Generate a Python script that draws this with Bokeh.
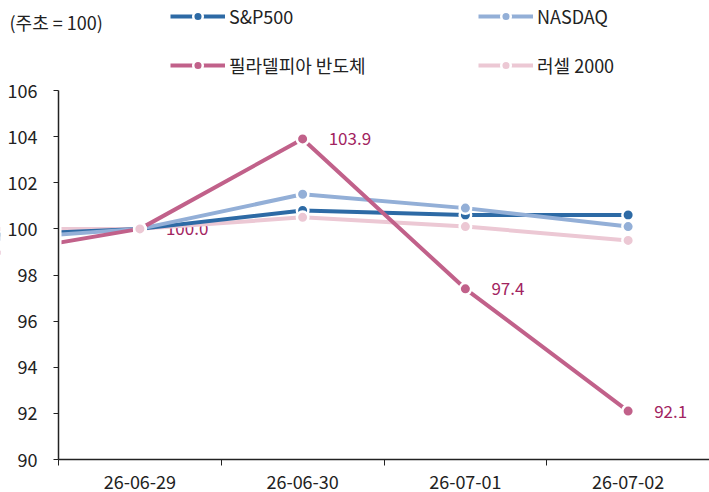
from bokeh.plotting import figure
from bokeh.models import (Range1d, FixedTicker, Legend, LegendItem, Label,
                          ColumnDataSource, BoxAnnotation)
from bokeh.core.properties import value
from bokeh.embed import file_html
from bokeh.resources import INLINE

# ---- data ----
dates = ["26-06-26", "26-06-29", "26-06-30", "26-07-01", "26-07-02"]
idx = [0, 1, 2, 3, 4]
sp500 = [99.7, 100.0, 100.8, 100.6, 100.6]
nasdaq = [99.5, 100.0, 101.5, 100.9, 100.1]
sox = [98.8, 100.0, 103.9, 97.4, 92.1]
russell = [100.0, 100.0, 100.5, 100.1, 99.5]
series_names = ["S&P500", "NASDAQ", "필라델피아 반도체", "러셀 2000"]
y_ticks = [90, 92, 94, 96, 98, 100, 102, 104, 106]
title_text = "(주초 = 100)"

colors = {"S&P500": "#2D6AA5", "NASDAQ": "#93AFD7",
          "필라델피아 반도체": "#C1618A", "러셀 2000": "#ECC8D4"}
label_color = "#A2245F"
FONT = "Noto Sans CJK KR"

# ---- layout geometry (pixels) ----
W, H = 709, 492
PL, PR, PT, PB = 58, 709, 90, 459          # plot area inside the canvas
x_lo, x_hi = idx[1] - 0.5, idx[-1] + 0.5
y_lo, y_hi = y_ticks[0], y_ticks[-1]
xpx = (PR - PL) / (x_hi - x_lo)
ypx = (PB - PT) / (y_hi - y_lo)
x_start = x_lo - PL / xpx
x_end = x_hi + (W - PR) / xpx
y_end = y_hi + PT / ypx
y_start = y_lo - (H - PB) / ypx

p = figure(width=W, height=H, output_backend="svg", toolbar_location=None,
           x_range=Range1d(x_start, x_end), y_range=Range1d(y_start, y_end),
           min_border_left=0, min_border_right=0, min_border_top=0,
           min_border_bottom=0)
p.outline_line_color = None
p.grid.visible = False
p.background_fill_color = "white"

data = {"S&P500": sp500, "NASDAQ": nasdaq, "필라델피아 반도체": sox, "러셀 2000": russell}

# data labels for SOX (drawn beneath the lines)
lab_src = ColumnDataSource(dict(x=idx[1:], y=sox[1:], t=["%.1f" % v for v in sox[1:]]))
p.text("x", "y", "t", source=lab_src, x_offset=26, text_baseline="middle",
       text_align="left", text_color=label_color, text_font=value(FONT),
       text_font_size="17px")

line_r = {}
for name in ["러셀 2000", "S&P500", "NASDAQ", "필라델피아 반도체"]:
    line_r[name] = p.line(idx, data[name], line_color=colors[name], line_width=4)
mark_r = {}
for name in ["S&P500", "NASDAQ", "필라델피아 반도체", "러셀 2000"]:
    mark_r[name] = p.scatter(idx, data[name], size=11.5, fill_color=colors[name],
                             line_color="white", line_width=2.5)

# white mask so that lines stop at the y axis (as in a clipped plot area)
mask = BoxAnnotation(left=x_start - 2, right=x_lo, fill_color="white", fill_alpha=1,
                     line_color="white", line_alpha=1, line_width=6, level="glyph")
p.renderers.append(mask)

# axes
xa = p.xaxis[0]
xa.axis_label = None
xa.fixed_location = y_lo
xa.bounds = (x_lo, x_hi)
xa.ticker = FixedTicker(ticks=idx[1:], minor_ticks=[i - 0.5 for i in idx[1:]] + [x_hi])
xa.major_label_overrides = {i: d for i, d in zip(idx, dates)}
xa.major_tick_out = 0
xa.major_tick_in = 0
xa.minor_tick_out = 6
xa.minor_tick_in = 0
xa.minor_tick_line_color = "#222222"
xa.axis_line_color = "#222222"
xa.axis_line_width = 1.5
xa.major_label_text_font = FONT
xa.major_label_text_font_size = "18px"
xa.major_label_text_color = "#222222"
xa.major_label_standoff = 9

ya = p.yaxis[0]
ya.axis_label = None
ya.fixed_location = x_lo
ya.bounds = (y_lo, y_hi)
ya.ticker = FixedTicker(ticks=y_ticks)
ya.minor_tick_line_color = None
ya.major_tick_out = 5
ya.major_tick_in = 0
ya.major_tick_line_color = "#222222"
ya.axis_line_color = "#222222"
ya.axis_line_width = 1.5
ya.major_label_text_font = FONT
ya.major_label_text_font_size = "18px"
ya.major_label_text_color = "#222222"
ya.major_label_standoff = 16

# title label
p.add_layout(Label(x=x_lo, y=y_hi, x_offset=-49, y_offset=69, text=title_text,
                   text_font=FONT, text_font_size="18px", text_color="#222222",
                   text_baseline="middle", text_align="left"))

items = [LegendItem(label=n, renderers=[line_r[n], mark_r[n]]) for n in
         ["S&P500", "NASDAQ", "필라델피아 반도체", "러셀 2000"]]
legend = Legend(items=items, location=(170, 414), orientation="horizontal", ncols=2,
                glyph_width=55, glyph_height=24, label_height=24, label_width=226,
                label_standoff=4, spacing=23, padding=0, margin=0,
                border_line_color=None, background_fill_alpha=0,
                label_text_font=FONT, label_text_font_size="18px",
                label_text_color="#222222")
p.add_layout(legend, "center")

open("out.html", "w").write(file_html(p, INLINE))
